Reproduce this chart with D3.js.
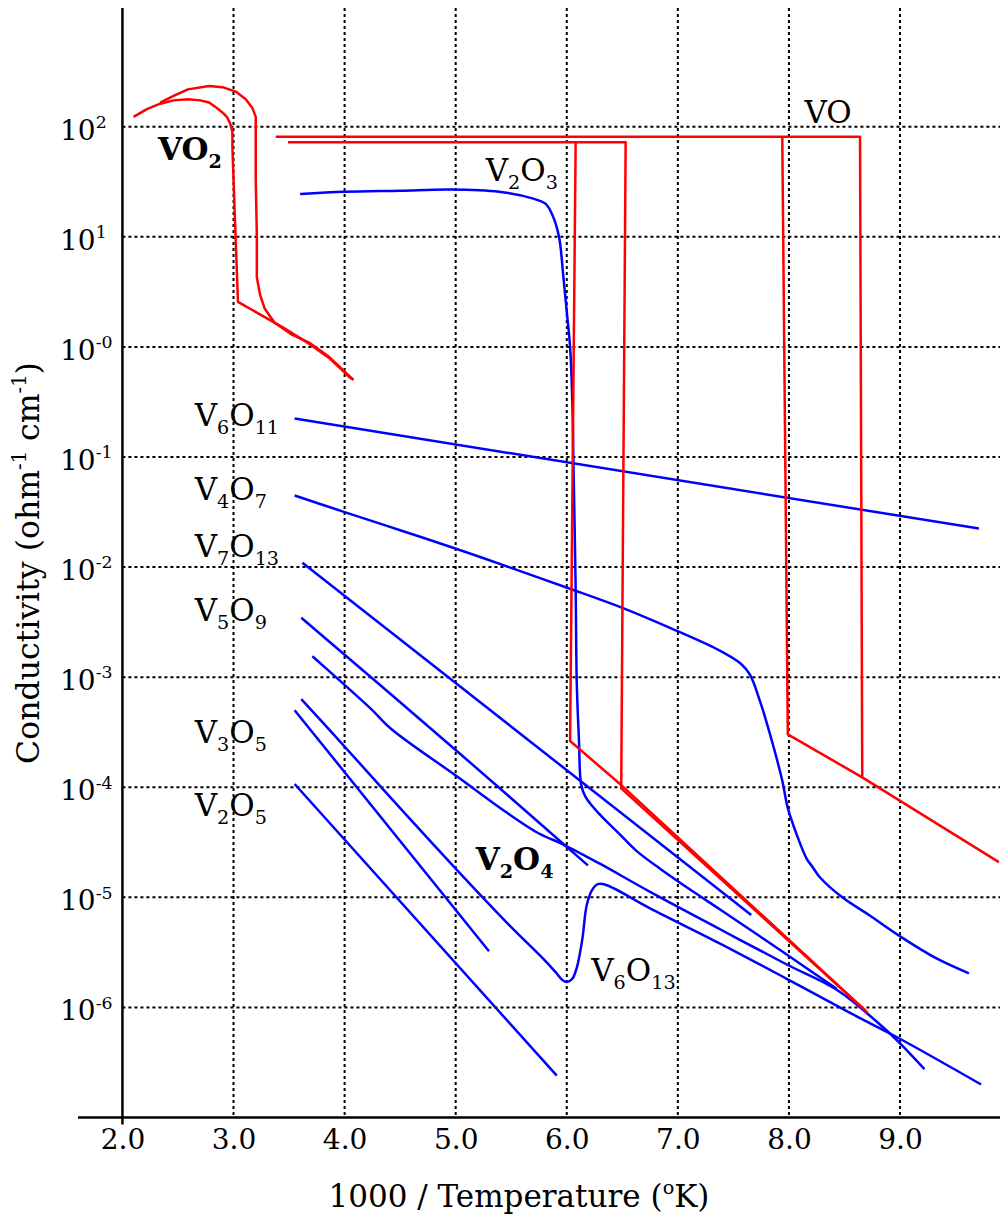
<!DOCTYPE html>
<html>
<head>
<meta charset="utf-8">
<script src="https://cdn.jsdelivr.net/npm/d3@7"></script>
<style>
  html, body { margin: 0; padding: 0; background: #fff; }
  svg { display: block; font-family: "DejaVu Serif", serif; }
</style>
</head>
<body>
<svg id="chart" width="1000" height="1214"></svg>
<script>
// Electrical conductivity of vanadium oxides against reciprocal temperature.
// Every point is [1000/T (1/K), log10 of conductivity (ohm^-1 cm^-1)].

const xTicks = [2, 3, 4, 5, 6, 7, 8, 9];
const yDecades = [2, 1, 0, -1, -2, -3, -4, -5, -6];
const yTickText = ["2", "1", "-0", "-1", "-2", "-3", "-4", "-5", "-6"];

// VO2: two branches of the hysteresis loop
const vo2Lower = [[2.10, 2.09], [2.22, 2.16], [2.34, 2.21], [2.46, 2.24], [2.59, 2.25], [2.70, 2.24],
  [2.78, 2.22], [2.85, 2.17], [2.90, 2.13], [2.94, 2.09], [2.97, 2.03], [2.99, 1.95], [2.99, 1.82],
  [3.01, 1.24], [3.04, 0.41], [3.44, 0.18], [3.68, 0.03], [3.86, -0.10], [4.06, -0.29]];
const vo2Upper = [[2.34, 2.22], [2.46, 2.28], [2.59, 2.34], [2.78, 2.37], [2.90, 2.36], [3.02, 2.32],
  [3.11, 2.25], [3.17, 2.17], [3.20, 2.09], [3.20, 1.53], [3.21, 1.00], [3.21, 0.63], [3.24, 0.47],
  [3.28, 0.35], [3.37, 0.22], [3.53, 0.11], [3.68, 0.04], [3.86, -0.09], [4.08, -0.30]];

// VO: metal-insulator step
const voOuter = [[3.38, 1.91], [8.64, 1.91], [8.66, -3.91], [9.89, -4.68]];
const voInner = [[7.94, 1.91], [7.99, -3.52], [8.66, -3.91]];

// V2O3 transition steps (red) and measured curve (blue)
const v2o3StepOuter = [[3.49, 1.86], [6.53, 1.86], [6.49, -4.01], [8.71, -6.05]];
const v2o3StepInner = [[6.08, 1.86], [6.03, -3.58], [6.49, -3.98], [8.69, -6.03]];
const v2o3 = [[3.60, 1.39], [4.00, 1.41], [4.50, 1.42], [4.95, 1.43], [5.39, 1.41], [5.69, 1.35],
  [5.81, 1.30], [5.87, 1.20], [5.93, 1.00], [5.97, 0.63], [6.00, 0.32], [6.03, 0.00], [6.05, -0.49],
  [6.06, -1.05], [6.08, -2.19], [6.09, -3.05], [6.11, -3.58], [6.13, -3.98], [6.17, -4.09],
  [6.29, -4.24], [6.48, -4.43], [6.63, -4.58], [6.84, -4.74], [7.14, -4.95], [7.38, -5.11],
  [7.98, -5.52], [8.43, -5.83]];

const v6o11 = [[3.55, -0.65], [9.71, -1.65]];
const v4o7 = [[3.55, -1.35], [4.00, -1.50], [4.50, -1.665], [5.01, -1.835], [5.48, -2.00], [6.01, -2.19],
  [6.50, -2.37], [6.97, -2.57], [7.36, -2.75], [7.57, -2.88], [7.65, -2.98], [7.74, -3.22],
  [7.83, -3.52], [7.94, -3.94], [7.99, -4.19], [8.07, -4.43], [8.16, -4.65], [8.21, -4.72],
  [8.28, -4.82], [8.48, -5.00], [8.72, -5.16], [9.01, -5.36], [9.32, -5.55], [9.62, -5.69]];
const v7o13 = [[3.62, -1.96], [7.66, -5.16]];
const v5o9 = [[3.61, -2.46], [5.01, -3.67], [6.19, -4.71]];
const v2o4 = [[3.71, -2.81], [4.00, -3.07], [4.24, -3.29], [4.42, -3.47], [5.01, -3.90],
  [5.46, -4.23], [5.75, -4.42], [5.97, -4.52], [6.29, -4.69], [6.75, -4.95], [7.38, -5.29],
  [7.98, -5.61], [8.43, -5.84], [8.88, -6.21], [9.08, -6.41], [9.22, -6.56]];
const v6o13 = [[3.61, -3.20], [4.00, -3.63], [4.50, -4.19], [5.01, -4.75], [5.48, -5.25], [5.80, -5.57],
  [5.90, -5.68], [5.96, -5.75], [6.00, -5.77], [6.05, -5.74], [6.09, -5.64], [6.14, -5.38],
  [6.18, -5.07], [6.23, -4.93], [6.28, -4.88], [6.36, -4.89], [6.75, -5.10], [7.38, -5.42],
  [7.98, -5.74], [8.55, -6.05], [8.99, -6.28], [9.73, -6.70]];
const v3o5 = [[3.55, -3.30], [5.30, -5.49]];
const v2o5 = [[3.55, -3.97], [5.91, -6.62]];

const RED = "#ff0000", BLUE = "#0000ff";

const series = [
  { pts: v6o11, color: BLUE, smooth: false },
  { pts: v4o7, color: BLUE, smooth: true },
  { pts: v7o13, color: BLUE, smooth: false },
  { pts: v5o9, color: BLUE, smooth: true },
  { pts: v2o4, color: BLUE, smooth: true },
  { pts: v6o13, color: BLUE, smooth: true },
  { pts: v3o5, color: BLUE, smooth: false },
  { pts: v2o5, color: BLUE, smooth: false },
  { pts: v2o3, color: BLUE, smooth: true },
  { pts: vo2Lower, color: RED, smooth: false },
  { pts: vo2Upper, color: RED, smooth: false },
  { pts: voOuter, color: RED, smooth: false },
  { pts: voInner, color: RED, smooth: false },
  { pts: v2o3StepOuter, color: RED, smooth: false },
  { pts: v2o3StepInner, color: RED, smooth: false }
];

// Compound labels: digits are drawn as subscripts
const labels = [
  { text: "VO2", x: 2.32, y: 1.70, bold: true },
  { text: "VO", x: 8.14, y: 2.03, bold: false },
  { text: "V2O3", x: 5.27, y: 1.51, bold: false },
  { text: "V6O11", x: 2.65, y: -0.72, bold: false },
  { text: "V4O7", x: 2.65, y: -1.39, bold: false },
  { text: "V7O13", x: 2.65, y: -1.91, bold: false },
  { text: "V5O9", x: 2.65, y: -2.49, bold: false },
  { text: "V3O5", x: 2.65, y: -3.60, bold: false },
  { text: "V2O5", x: 2.65, y: -4.26, bold: false },
  { text: "V2O4", x: 5.18, y: -4.75, bold: true },
  { text: "V6O13", x: 6.22, y: -5.76, bold: false }
];

const svg = d3.select("#chart");
const x = d3.scaleLinear().domain([1.6, 9.9]).range([78, 1000]);
const y = d3.scaleLog().domain([1e-7, 1200]).range([1117.5, 8]);
const yv = e => y(Math.pow(10, e));

// dotted grid
const grid = svg.append("g")
  .attr("stroke", "#000").attr("stroke-width", 2).attr("stroke-dasharray", "3,3").attr("fill", "none");
grid.selectAll("line.gv").data(xTicks.filter(v => v > 2)).join("line").attr("class", "gv")
  .attr("x1", d => x(d)).attr("x2", d => x(d))
  .attr("y1", y(1200)).attr("y2", y(1e-7));
grid.selectAll("line.gh").data(yDecades).join("line").attr("class", "gh")
  .attr("x1", x(2)).attr("x2", 1000)
  .attr("y1", d => yv(d)).attr("y2", d => yv(d));

// axis lines
svg.append("line").attr("x1", x(1.6)).attr("x2", 1000).attr("y1", y(1e-7)).attr("y2", y(1e-7))
  .attr("stroke", "#000").attr("stroke-width", 2.5);
svg.append("line").attr("x1", x(2)).attr("x2", x(2)).attr("y1", y(1200)).attr("y2", y(1e-7) + 7)
  .attr("stroke", "#000").attr("stroke-width", 2.5);

// x tick labels through a d3 axis
const xAxis = svg.append("g").attr("transform", `translate(0,${y(1e-7)})`)
  .call(d3.axisBottom(x).tickValues(xTicks).tickFormat(d3.format(".1f")).tickSize(0).tickPadding(12));
xAxis.select(".domain").remove();
xAxis.selectAll("text").attr("font-family", "DejaVu Serif, serif").attr("font-size", 28).attr("fill", "#000");

// rich text helper: parts are [string, "sup" | "sub" | null]
function rich(textSel, parts, fs) {
  let shift = 0;
  parts.forEach(([t, mode]) => {
    const ts = textSel.append("tspan").text(t);
    let target = 0;
    if (mode === "sup") { ts.attr("font-size", fs * 0.62); target = -fs * 0.42; }
    else if (mode === "sub") { ts.attr("font-size", fs * 0.62); target = fs * 0.26; }
    if (target !== shift) { ts.attr("dy", target - shift); shift = target; }
  });
}

// y tick labels: 10 with an exponent
const yTicksG = svg.append("g");
yDecades.forEach((d, i) => {
  const t = yTicksG.append("text").attr("x", 60).attr("y", yv(d) + 13)
    .attr("font-size", 28).attr("fill", "#000");
  rich(t, [["10", null], [yTickText[i], "sup"]], 28);
});

// curves
const lineLin = d3.line().x(d => x(d[0])).y(d => yv(d[1]));
const lineSmooth = d3.line().x(d => x(d[0])).y(d => yv(d[1])).curve(d3.curveCatmullRom.alpha(0.5));
svg.append("g").attr("fill", "none").attr("stroke-width", 2.5)
  .attr("stroke-linejoin", "round").attr("stroke-linecap", "butt")
  .selectAll("path").data(series).join("path")
  .attr("stroke", d => d.color)
  .attr("d", d => (d.smooth ? lineSmooth : lineLin)(d.pts));

// compound labels
const labG = svg.append("g").attr("fill", "#000");
labels.forEach(l => {
  const fs = 31;
  const t = labG.append("text").attr("x", x(l.x)).attr("y", yv(l.y)).attr("font-size", fs)
    .attr("font-weight", l.bold ? "bold" : "normal");
  const parts = l.text.match(/[A-Z][a-z]?|\d+/g).map(p => [p, /\d/.test(p) ? "sub" : null]);
  rich(t, parts, fs);
});

// axis titles
const xt = svg.append("text").attr("x", 519).attr("y", 1207).attr("text-anchor", "middle")
  .attr("font-size", 31).attr("fill", "#000");
rich(xt, [["1000 / Temperature (", null], ["o", "sup"], ["K)", null]], 31);

const yt = svg.append("text").attr("transform", "translate(39,563) rotate(-90)")
  .attr("text-anchor", "middle").attr("font-size", 31.5).attr("fill", "#000");
rich(yt, [["Conductivity (ohm", null], ["-1", "sup"], [" cm", null], ["-1", "sup"], [")", null]], 31.5);
</script>
</body>
</html>
